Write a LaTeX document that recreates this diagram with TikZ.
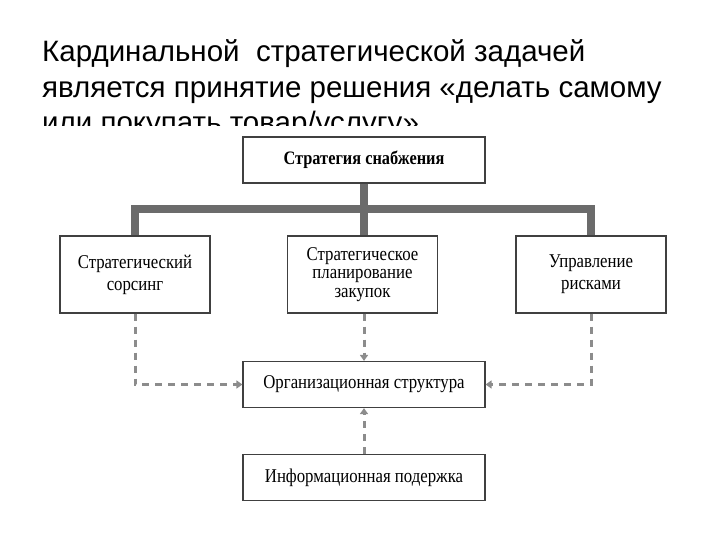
\documentclass[tikz,border=0pt]{standalone}
\usepackage{fontspec}
\setmainfont{Liberation Serif}
\newfontfamily\slidefont{Liberation Sans}
\newfontfamily\schemefont{Liberation Serif}[FakeStretch=0.86]
\usetikzlibrary{arrows.meta}
\tikzset{
    plain-box/.style = {draw=black!75, fill=white, line width=1.2pt, rectangle, align=center, inner sep=3pt, font=\schemefont\fontsize{19.5}{20.5}\selectfont},
    wide-box/.style = {plain-box, minimum width=242pt, minimum height=46pt},
    side-box/.style = {plain-box, minimum width=150pt, minimum height=77pt},
    title-line/.style = {anchor=base west, inner sep=0pt, font=\slidefont\fontsize{29.5}{35}\selectfont},
    trunk/.style = {draw=black!58, line width=8pt},
    feed/.style = {draw=black!45, line width=3pt, dash pattern=on 7pt off 6pt, -{Triangle[length=6pt,width=8pt]}},
}
\begin{document}
\begin{tikzpicture}[x=1pt, y=-1pt]
\useasboundingbox (0,0) rectangle (720,540);
% heading of the slide
\node[title-line] (line1) at (42,62) {Кардинальной~ стратегической задачей};
\node[title-line] (line2) at (42,97.5) {является принятие решения «делать самому};
\node[title-line] (line3) at (42,133) {или покупать товар/услугу»};
% the scanned scheme covers the last line
\fill[white] (0,126) rectangle (720,540);

% boxes
\node[wide-box, font=\schemefont\bfseries\fontsize{19}{20}\selectfont] (supply) at (364,160) {Стратегия снабжения};
\node[side-box] (sourcing) at (135,274.5) {Стратегический\\[1.5pt]сорсинг};
\node[side-box, font=\schemefont\fontsize{19.5}{18.5}\selectfont] (planning) at (362.5,274.5) {Стратегическое\\планирование\\закупок};
\node[side-box] (risks) at (591,274.5) {Управление\\[1.5pt]рисками};
\node[wide-box] (orgstruct) at (364,384.5) {Организационная структура};
\node[wide-box] (infosup) at (364,477.5) {Информационная подержка};

% thick links
\draw[trunk] (supply.south) -- ++(0,25) coordinate (hub);
\draw[trunk] (hub) -| (sourcing.north);
\draw[trunk] (hub) -| (risks.north);
\draw[trunk] (hub) -- (planning.north -| hub);

% dashed links
\draw[feed] (sourcing.south) |- (orgstruct.west);
\draw[feed] (risks.south) |- (orgstruct.east);
\draw[feed] (planning.south -| orgstruct.north) -- (orgstruct.north);
\draw[feed] (infosup.north) -- (orgstruct.south);
\end{tikzpicture}
\end{document}
